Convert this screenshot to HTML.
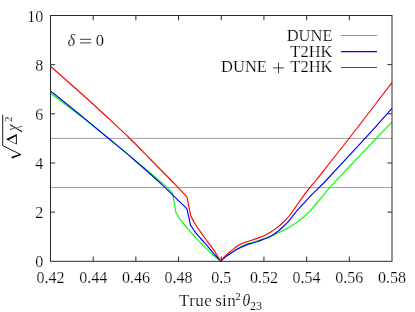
<!DOCTYPE html>
<html><head><meta charset="utf-8"><style>
html,body{margin:0;padding:0;background:#fff;}
text{stroke:#fff;stroke-width:0.2px;}
text.sm{stroke-width:0.1px;}
svg{display:block;font-family:"Liberation Serif",serif;will-change:transform;transform:translateZ(0);}
</style></head><body>
<svg width="415" height="312" viewBox="0 0 415 312">
<rect width="415" height="312" fill="#fff"/>
<g stroke="#a0a0a0" stroke-width="1" fill="none">
<path d="M50.5,138.40 H392.0"/><path d="M50.5,187.56 H392.0"/>
</g>
<g fill="none" stroke-width="1.15" stroke-linejoin="round">
<path stroke="#00ff00" d="M50.50,93.30 C55.47,97.05 70.60,108.25 80.30,115.80 C90.00,123.35 99.70,131.30 108.70,138.60 C117.70,145.90 125.75,152.50 134.30,159.60 C142.85,166.70 154.55,176.58 160.00,181.20 C165.45,185.82 164.88,185.22 167.00,187.30 C169.12,189.38 171.75,192.63 172.70,193.70 L175.90,212.50 C176.75,213.85 178.65,217.47 181.00,220.60 C183.35,223.73 187.02,227.87 190.00,231.30 C192.98,234.73 195.92,238.05 198.90,241.20 C201.88,244.35 204.90,247.35 207.90,250.20 C210.90,253.05 214.77,256.48 216.90,258.30 C219.03,260.12 220.07,260.63 220.70,261.10 C221.60,260.32 224.30,257.80 226.10,256.40 C227.90,255.00 229.48,254.05 231.50,252.70 C233.52,251.35 235.95,249.63 238.20,248.30 C240.45,246.97 242.75,245.65 245.00,244.70 C247.25,243.75 249.45,243.28 251.70,242.60 C253.95,241.92 256.25,241.32 258.50,240.60 C260.75,239.88 263.28,239.00 265.20,238.30 C267.12,237.60 267.87,237.30 270.00,236.40 C272.13,235.50 275.32,234.15 278.00,232.90 C280.68,231.65 283.42,230.35 286.10,228.90 C288.78,227.45 291.85,225.68 294.10,224.20 C296.35,222.72 298.15,221.07 299.60,220.00 C301.05,218.93 301.20,219.17 302.80,217.80 C304.40,216.43 307.15,213.93 309.20,211.80 C311.25,209.67 312.88,207.58 315.10,205.00 C317.32,202.42 320.03,199.23 322.50,196.30 C324.97,193.37 325.32,192.45 329.90,187.40 C334.48,182.35 342.30,174.15 350.00,166.00 C357.70,157.85 369.10,145.80 376.10,138.50 C383.10,131.20 389.35,124.92 392.00,122.20"/>
<path stroke="#0000ff" d="M50.50,91.00 C55.47,95.00 70.60,107.08 80.30,115.00 C90.00,122.92 99.70,131.00 108.70,138.50 C117.70,146.00 125.75,152.60 134.30,160.00 C142.85,167.40 151.22,174.75 160.00,182.90 C168.78,191.05 182.50,204.57 187.00,208.90 L190.50,225.10 C191.30,226.28 193.60,229.97 195.30,232.20 C197.00,234.43 198.60,236.10 200.70,238.50 C202.80,240.90 205.50,243.85 207.90,246.60 C210.30,249.35 212.97,252.58 215.10,255.00 C217.23,257.42 219.77,260.08 220.70,261.10 C221.60,260.32 224.30,257.78 226.10,256.40 C227.90,255.02 229.48,254.08 231.50,252.80 C233.52,251.52 235.95,249.90 238.20,248.70 C240.45,247.50 242.75,246.50 245.00,245.60 C247.25,244.70 249.45,244.03 251.70,243.30 C253.95,242.57 256.25,242.00 258.50,241.20 C260.75,240.40 263.28,239.23 265.20,238.50 C267.12,237.77 267.87,238.02 270.00,236.80 C272.13,235.58 275.67,233.00 278.00,231.20 C280.33,229.40 282.00,227.93 284.00,226.00 C286.00,224.07 287.93,222.03 290.00,219.60 C292.07,217.17 294.27,213.93 296.40,211.40 C298.53,208.87 300.67,206.75 302.80,204.40 C304.93,202.05 307.07,199.55 309.20,197.30 C311.33,195.05 313.93,192.55 315.60,190.90 C317.27,189.25 317.38,189.22 319.20,187.40 C321.02,185.58 319.70,187.25 326.50,180.00 C333.30,172.75 349.08,155.83 360.00,143.90 C370.92,131.97 386.67,114.32 392.00,108.40"/>
<path stroke="#ff0000" d="M50.50,66.20 C56.83,71.83 79.45,91.87 88.50,100.00 C97.55,108.13 97.90,108.58 104.80,115.00 C111.70,121.42 122.18,131.00 129.90,138.50 C137.62,146.00 144.28,153.08 151.10,160.00 C157.92,166.92 166.32,175.45 170.80,180.00 C175.28,184.55 175.30,184.45 178.00,187.30 C180.70,190.15 185.50,195.47 187.00,197.10 L190.85,216.10 C191.59,217.45 193.66,221.52 195.30,224.20 C196.94,226.88 198.60,229.22 200.70,232.20 C202.80,235.18 205.50,238.80 207.90,242.10 C210.30,245.40 212.97,248.83 215.10,252.00 C217.23,255.17 219.77,259.58 220.70,261.10 C221.60,260.10 224.30,256.85 226.10,255.10 C227.90,253.35 229.48,252.18 231.50,250.60 C233.52,249.02 235.95,247.00 238.20,245.60 C240.45,244.20 242.75,243.10 245.00,242.20 C247.25,241.30 249.45,240.92 251.70,240.20 C253.95,239.48 256.25,238.73 258.50,237.90 C260.75,237.07 263.28,236.08 265.20,235.20 C267.12,234.32 267.87,233.98 270.00,232.60 C272.13,231.22 275.67,228.75 278.00,226.90 C280.33,225.05 282.00,223.48 284.00,221.50 C286.00,219.52 287.93,217.62 290.00,215.00 C292.07,212.38 294.27,208.83 296.40,205.80 C298.53,202.77 300.55,199.87 302.80,196.80 C305.05,193.73 307.65,190.20 309.90,187.40 C312.15,184.60 312.62,184.57 316.30,180.00 C319.98,175.43 326.55,166.92 332.00,160.00 C337.45,153.08 343.15,146.00 349.00,138.50 C354.85,131.00 359.93,124.30 367.10,115.00 C374.27,105.70 387.85,88.08 392.00,82.70"/>
<path stroke="#00ff00" d="M341,35.5 H377"/>
<path stroke="#0000ff" d="M341,51.6 H377"/>
<path stroke="#ff0000" d="M341,67.5 H377"/>
</g>
<g stroke="#2a2a2a" stroke-width="1" fill="none">
<rect x="50.5" y="15.5" width="341.5" height="245.8"/>
<path d="M93.19,261.3 V256.5 M93.19,15.5 V20.3"/><path d="M135.87,261.3 V256.5 M135.87,15.5 V20.3"/><path d="M178.56,261.3 V256.5 M178.56,15.5 V20.3"/><path d="M221.25,261.3 V256.5 M221.25,15.5 V20.3"/><path d="M263.94,261.3 V256.5 M263.94,15.5 V20.3"/><path d="M306.63,261.3 V256.5 M306.63,15.5 V20.3"/><path d="M349.31,261.3 V256.5 M349.31,15.5 V20.3"/><path d="M50.5,212.14 H55.1 M392.0,212.14 H387.4"/><path d="M50.5,162.98 H55.1 M392.0,162.98 H387.4"/><path d="M50.5,113.82 H55.1 M392.0,113.82 H387.4"/><path d="M50.5,64.66 H55.1 M392.0,64.66 H387.4"/>
</g>
<g font-size="16px" fill="#000">
<text x="50.5" y="283.4" text-anchor="middle">0.42</text><text x="93.2" y="283.4" text-anchor="middle">0.44</text><text x="135.9" y="283.4" text-anchor="middle">0.46</text><text x="178.6" y="283.4" text-anchor="middle">0.48</text><text x="221.3" y="283.4" text-anchor="middle">0.5</text><text x="263.9" y="283.4" text-anchor="middle">0.52</text><text x="306.6" y="283.4" text-anchor="middle">0.54</text><text x="349.3" y="283.4" text-anchor="middle">0.56</text><text x="392.0" y="283.4" text-anchor="middle">0.58</text>
<text x="43.3" y="267.3" text-anchor="end">0</text><text x="43.3" y="218.1" text-anchor="end">2</text><text x="43.3" y="169.0" text-anchor="end">4</text><text x="43.3" y="119.8" text-anchor="end">6</text><text x="43.3" y="70.7" text-anchor="end">8</text><text x="43.3" y="21.5" text-anchor="end">10</text>
</g>
<g font-size="16.5px" fill="#000" text-anchor="end">
<text x="332.5" y="41.1">DUNE</text>
<text x="332.5" y="57">T2HK</text>
<text x="332.5" y="72.3">T2HK</text>
<text x="266.9" y="72.3">DUNE</text>
</g>
<path d="M273.1,67.9 H283.9 M278.5,62.7 V73.1" stroke="#000" stroke-width="0.75" fill="none"/>
<path d="M79.9,39.3 H91.1 M79.9,42.9 H91.1" stroke="#000" stroke-width="0.75" fill="none"/>
<g font-size="16.5px" fill="#000">
<text x="67.5" y="45.9" font-style="italic">δ</text>
<text x="95.8" y="45.9">0</text>
<text x="179.0" y="305.7" font-size="17px" letter-spacing="0.4">True</text>
<text x="215.2" y="305.7" font-size="17px" letter-spacing="0.3">sin</text>
<text x="235.3" y="299.6" font-size="11px" class="sm">2</text>
<text x="242.2" y="305.7" font-style="italic">θ</text>
<text x="250.0" y="309.7" font-size="12px" class="sm">23</text>
</g>
<g transform="translate(16.8,158) rotate(-90)" fill="#000">
<path d="M-0.6,-4.0 L0.8,-5.0" stroke="#000" stroke-width="0.8" fill="none"/>
<path d="M0.6,-4.9 L3.5,3.9" stroke="#000" stroke-width="1.6" fill="none"/>
<path d="M3.5,3.9 L12.4,-14.1 H43.3" stroke="#000" stroke-width="0.9" fill="none"/>
<path fill-rule="evenodd" d="M13.4,0 L18.7,-10.8 L24,0 Z M14.54,-0.9 L21.66,-0.9 L18.1,-8.15 Z"/>
<text x="26.8" y="0.7" font-size="16px" font-style="italic">χ</text>
<text x="36.1" y="-4.8" font-size="11px" class="sm">2</text>
</g>
</svg>
</body></html>
